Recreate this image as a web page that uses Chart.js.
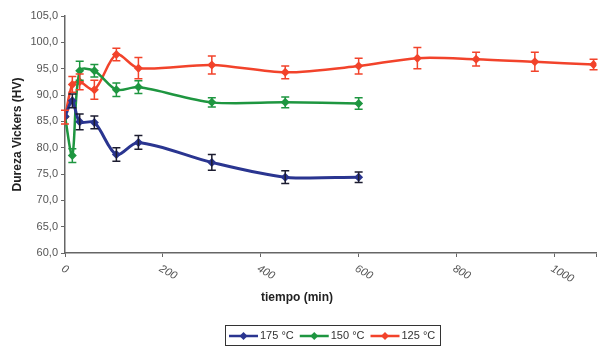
<!DOCTYPE html>
<html>
<head>
<meta charset="utf-8">
<script src="https://cdn.jsdelivr.net/npm/chart.js@4"></script>
<style>
  html, body { margin: 0; padding: 0; background: #fff; }
  #wrap { width: 601px; height: 349px; }
</style>
</head>
<body>
<div id="wrap"><canvas id="chart" width="601" height="349"></canvas></div>
<script>
// ---- data ----
const times = [0, 15, 30, 60, 105, 150, 300, 450, 600, 720, 840, 960, 1080];
const xTicks = [0, 200, 400, 600, 800, 1000];

const hv175 = [85.9, 88.9, 84.9, 84.8, 78.7, 81.0, 77.2, 74.4, 74.4];
const err175 = [0, 1.3, 1.5, 1.2, 1.3, 1.3, 1.5, 1.2, 1.0];

const hv150 = [85.9, 78.5, 94.6, 94.6, 91.0, 91.5, 88.6, 88.6, 88.4];
const err150 = [0, 1.3, 1.8, 1.2, 1.3, 1.2, 0.9, 1.0, 1.1];

const hv125 = [85.8, 92.0, 92.5, 91.0, 97.7, 95.1, 95.7, 94.3, 95.5, 97.0, 96.8, 96.3, 95.8];
const err125 = [1.3, 1.5, 1.5, 1.8, 1.2, 2.0, 1.7, 1.2, 1.5, 2.0, 1.3, 1.8, 1.0];

const labels = ['175 °C', '150 °C', '125 °C'];
const colors = ['#2a3590', '#1e9640', '#f2432b'];
const errColors = ['#1c1c30', '#1e9640', '#f2432b'];

const FONT = 'Liberation Sans, Arial, sans-serif';

function points(vals) {
  return vals.map((v, i) => ({ x: times[i], y: v }));
}

function series(i, vals, errs) {
  return {
    label: labels[i],
    data: points(vals),
    errors: errs,
    errColor: errColors[i],
    borderColor: colors[i],
    backgroundColor: colors[i],
    borderWidth: i === 0 ? 3 : 2.5,
    pointStyle: 'rectRot',
    pointRadius: 4.5,
    pointBorderWidth: 0,
    tension: 0.3
  };
}

// error bars, x labels, x title and legend drawn over the chart
const extras = {
  id: 'extras',
  afterDatasetsDraw(chart) {
    const ctx = chart.ctx;
    const x = chart.scales.x, y = chart.scales.y;
    ctx.save();
    chart.data.datasets.forEach(ds => {
      ctx.strokeStyle = ds.errColor;
      ctx.lineWidth = 1.5;
      ds.data.forEach((p, i) => {
        const e = ds.errors[i];
        if (!e) return;
        const px = x.getPixelForValue(p.x);
        const top = y.getPixelForValue(p.y + e);
        const bot = y.getPixelForValue(p.y - e);
        ctx.beginPath();
        ctx.moveTo(px, top); ctx.lineTo(px, bot);
        ctx.moveTo(px - 4, top); ctx.lineTo(px + 4, top);
        ctx.moveTo(px - 4, bot); ctx.lineTo(px + 4, bot);
        ctx.stroke();
      });
    });
    ctx.restore();
  },
  afterDraw(chart) {
    const ctx = chart.ctx;
    const x = chart.scales.x;
    const base = chart.chartArea.bottom;
    ctx.save();

    // rotated italic tick labels
    ctx.fillStyle = '#555';
    ctx.font = 'italic 11px ' + FONT;
    ctx.textAlign = 'left';
    ctx.textBaseline = 'top';
    xTicks.forEach(t => {
      ctx.save();
      ctx.translate(x.getPixelForValue(t), base + 10);
      ctx.rotate(Math.PI / 6);
      ctx.fillText(String(t), 0, 0);
      ctx.restore();
    });

    // axis title
    ctx.fillStyle = '#222';
    ctx.font = 'bold 12px ' + FONT;
    ctx.textAlign = 'center';
    ctx.textBaseline = 'middle';
    ctx.fillText('tiempo (min)', 297, 298);

    // legend box
    ctx.strokeStyle = '#333';
    ctx.lineWidth = 1;
    ctx.strokeRect(225.5, 325.5, 215, 20);
    ctx.font = '11px ' + FONT;
    ctx.textAlign = 'left';
    const ly = 336;
    let lx = 229;
    chart.data.datasets.forEach(ds => {
      ctx.strokeStyle = ds.borderColor;
      ctx.lineWidth = 2.5;
      ctx.beginPath();
      ctx.moveTo(lx, ly); ctx.lineTo(lx + 29, ly);
      ctx.stroke();
      ctx.fillStyle = ds.borderColor;
      ctx.beginPath();
      ctx.moveTo(lx + 14.5, ly - 4); ctx.lineTo(lx + 18.5, ly);
      ctx.lineTo(lx + 14.5, ly + 4); ctx.lineTo(lx + 10.5, ly);
      ctx.closePath(); ctx.fill();
      ctx.fillStyle = '#333';
      ctx.fillText(ds.label, lx + 31, ly);
      lx += 35 + ctx.measureText(ds.label).width + 2;
    });
    ctx.restore();
  }
};

new Chart(document.getElementById('chart'), {
  type: 'line',
  data: {
    datasets: [
      series(0, hv175, err175),
      series(1, hv150, err150),
      series(2, hv125, err125)
    ]
  },
  options: {
    responsive: false,
    animation: false,
    layout: { padding: { top: 16, right: 0, bottom: 0, left: 0 } },
    plugins: {
      legend: { display: false },
      tooltip: { enabled: false }
    },
    scales: {
      x: {
        type: 'linear',
        min: 0,
        max: 1086,
        border: { color: '#666', width: 1.5 },
        grid: { drawOnChartArea: false, drawTicks: true, tickLength: 4, color: '#666' },
        ticks: { stepSize: 200, display: false },
        afterFit(scale) { scale.height = 96; scale.paddingRight = 0; }
      },
      y: {
        min: 60,
        max: 105,
        border: { color: '#666', width: 1.5 },
        grid: { drawOnChartArea: false, tickLength: 4, color: '#666' },
        ticks: {
          stepSize: 5,
          color: '#555',
          padding: 3,
          font: { family: FONT, size: 11 },
          callback: v => v.toFixed(1).replace('.', ',')
        },
        title: {
          display: true,
          text: 'Dureza Vickers (HV)',
          color: '#222',
          padding: { top: 10, bottom: 0 },
          font: { family: FONT, size: 12, weight: 'bold' }
        },
        afterFit(scale) { scale.width = 65; }
      }
    }
  },
  plugins: [extras]
});
</script>
</body>
</html>
